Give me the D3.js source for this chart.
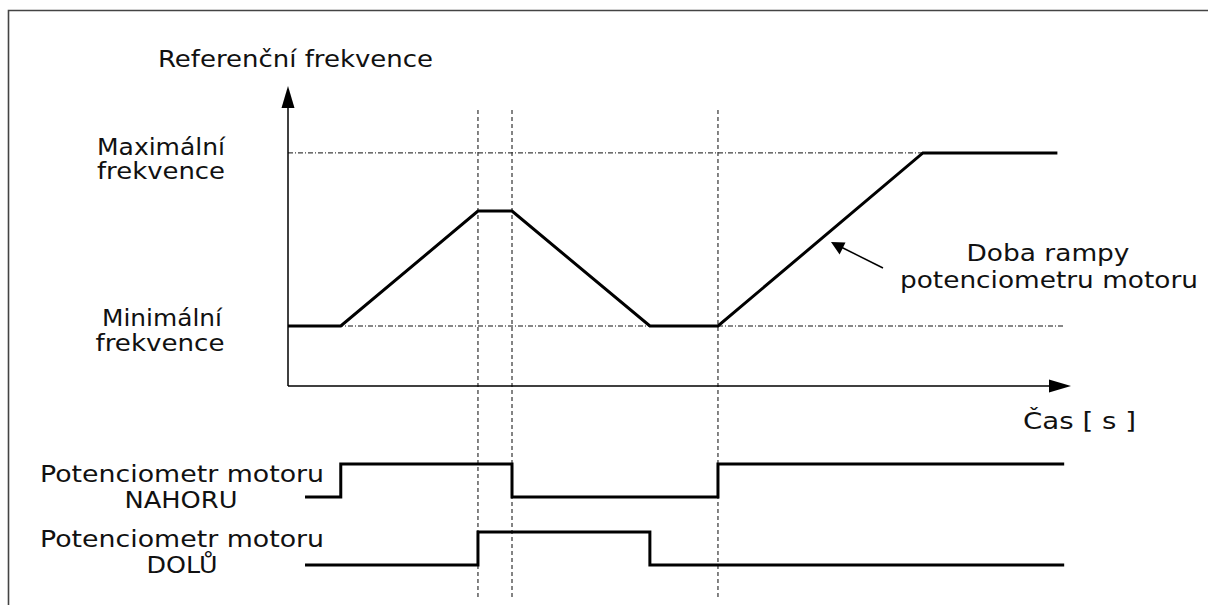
<!DOCTYPE html>
<html><head><meta charset="utf-8">
<script src="https://cdn.jsdelivr.net/npm/d3@7"></script>
<style>
html,body{margin:0;padding:0;background:#fff;}
svg{display:block;}
text{font-family:"DejaVu Sans",Verdana,sans-serif;fill:#111;}
</style></head>
<body>
<svg id="chart" width="1208" height="605"></svg>
<script>
// ---- data (time in arbitrary units, frequency in % of axis) ----
const freqTimes  = [0, 1.55, 5.58, 6.58, 10.63, 12.63, 18.65, 22.6];
const freqValues = [20, 20, 58.3, 58.3, 20, 20, 77.7, 77.7];
const minFreq = 20, maxFreq = 77.7;
const markerTimes = [5.58, 6.58, 12.63];
const signalRows = ["NAHORU", "DOLŮ"];
const upTimes   = [0.5, 1.55, 6.58, 12.63, 22.8];
const upLevels  = [0, 1, 0, 1, 1];
const downTimes  = [0.5, 5.58, 10.63, 22.8];
const downLevels = [0, 1, 0, 0];
const timeEnd = 23, freqTop = 100;

const svg = d3.select("#chart");
const x = d3.scaleLinear().domain([0, timeEnd]).range([288, 1071]);
const y = d3.scaleLinear().domain([0, freqTop]).range([386, 86]);
const rowY = d3.scalePoint().domain(signalRows).range([497, 565]);
const lvl = d3.scaleLinear().domain([0, 1]).range([0, -33]);

// frame
svg.append("path").attr("d", "M8.5,605 V10.5 H1208")
  .attr("fill", "none").attr("stroke", "#444").attr("stroke-width", 1.6);

// reference dash-dot lines
svg.append("line").attr("x1", x(0)).attr("x2", x(18.65)).attr("y1", y(maxFreq)).attr("y2", y(maxFreq))
  .attr("stroke", "#111").attr("stroke-width", 1).attr("stroke-dasharray", "5,2,1,2");
svg.append("line").attr("x1", x(0)).attr("x2", x(22.8)).attr("y1", y(minFreq)).attr("y2", y(minFreq))
  .attr("stroke", "#111").attr("stroke-width", 1).attr("stroke-dasharray", "5,2,1,2");

// vertical dashed markers
svg.selectAll("line.mk").data(markerTimes).join("line").attr("class", "mk")
  .attr("x1", d => x(d)).attr("x2", d => x(d)).attr("y1", 110).attr("y2", 597)
  .attr("stroke", "#333").attr("stroke-width", 1.2).attr("stroke-dasharray", "4,3");

// axes with arrowheads
svg.append("line").attr("x1", x(0)).attr("x2", x(0)).attr("y1", y(0)).attr("y2", y(freqTop) + 20)
  .attr("stroke", "#000").attr("stroke-width", 1.5);
svg.append("path").attr("d", `M${x(0)},${y(freqTop)} l-6.5,22 h13 z`).attr("fill", "#000");
svg.append("line").attr("x1", x(0)).attr("x2", x(timeEnd) - 20).attr("y1", y(0)).attr("y2", y(0))
  .attr("stroke", "#000").attr("stroke-width", 1.5);
svg.append("path").attr("d", `M${x(timeEnd)},${y(0)} l-22,-6.5 v13 z`).attr("fill", "#000");

// frequency trace
const line = d3.line().x(d => x(d[0])).y(d => y(d[1]));
svg.append("path").datum(d3.zip(freqTimes, freqValues)).attr("d", line)
  .attr("fill", "none").attr("stroke", "#000").attr("stroke-width", 3).attr("stroke-linejoin", "miter");

// signals
const step = d3.line().curve(d3.curveStepAfter);
function drawSignal(times, levels, row) {
  const pts = times.map((t, i) => [x(t), rowY(row) + lvl(levels[i])]);
  svg.append("path").attr("d", step(pts)).attr("fill", "none")
    .attr("stroke", "#000").attr("stroke-width", 3);
}
drawSignal(upTimes, upLevels, "NAHORU");
drawSignal(downTimes, downLevels, "DOLŮ");

// annotation arrow
svg.append("line").attr("x1", 883).attr("y1", 268).attr("x2", 840).attr("y2", 246.5)
  .attr("stroke", "#000").attr("stroke-width", 1.5);
svg.append("path").attr("d", "M831,242 L845.5,242.6 L839.6,254.4 Z").attr("fill", "#000");

// texts
const labels = [
  {t: "Referenční frekvence", x: 158, y: 67, w: 275, a: "start"},
  {t: "Maximální", x: 161, y: 155, w: 128, a: "middle"},
  {t: "frekvence", x: 161, y: 179, w: 128, a: "middle"},
  {t: "Minimální", x: 162, y: 326, w: 120, a: "middle"},
  {t: "frekvence", x: 160, y: 351, w: 129, a: "middle"},
  {t: "Doba rampy", x: 1048, y: 261, w: 163, a: "middle"},
  {t: "potenciometru motoru", x: 1049, y: 288, w: 298, a: "middle"},
  {t: "Čas [ s ]", x: 1023, y: 429, w: 113, a: "start"},
  {t: "Potenciometr motoru", x: 182, y: 482, w: 284, a: "middle"},
  {t: "NAHORU", x: 181, y: 508, w: 113, a: "middle"},
  {t: "Potenciometr motoru", x: 182, y: 547, w: 284, a: "middle"},
  {t: "DOLŮ", x: 182, y: 573, w: 71, a: "middle"}
];
svg.selectAll("text.lb").data(labels).join("text").attr("class", "lb")
  .attr("x", d => d.x).attr("y", d => d.y).attr("text-anchor", d => d.a)
  .attr("font-size", 23).attr("textLength", d => d.w).attr("lengthAdjust", "spacingAndGlyphs")
  .text(d => d.t);
</script>
</body></html>
